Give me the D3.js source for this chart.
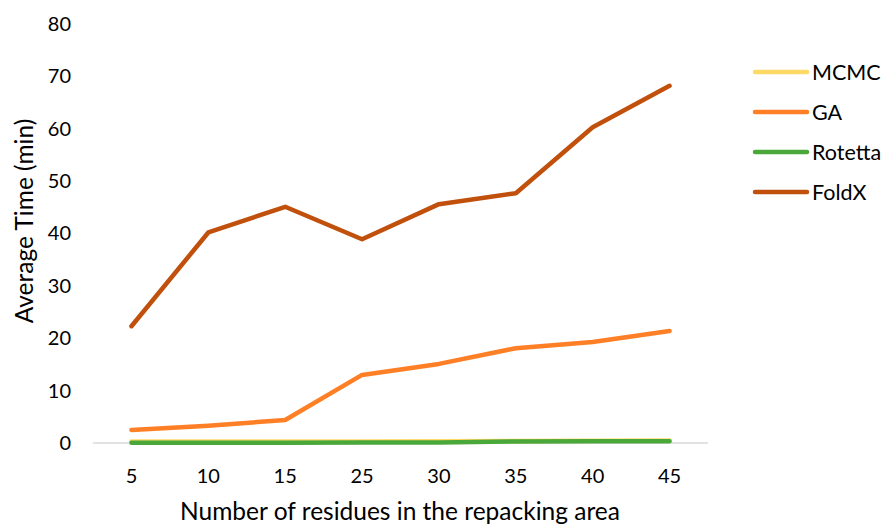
<!DOCTYPE html>
<html>
<head>
<meta charset="utf-8">
<script src="https://cdn.jsdelivr.net/npm/d3@7"></script>
<style>
  html, body { margin: 0; padding: 0; background: #fff; }
  svg text { font-family: Lato, "Open Sans", sans-serif; fill: #000; }
</style>
</head>
<body>
<svg id="chart" width="886" height="525"></svg>
<script>
// Residue counts in the repacking area (x categories)
const categories = ["5", "10", "15", "25", "30", "35", "40", "45"];

// Average time (min) per method
const mcmc    = [0.3, 0.3, 0.3, 0.3, 0.35, 0.4, 0.45, 0.5];
const ga      = [2.5, 3.3, 4.4, 13.0, 15.1, 18.1, 19.3, 21.4];
const rotetta = [0.05, 0.05, 0.05, 0.1, 0.1, 0.3, 0.35, 0.35];
const foldx   = [22.3, 40.2, 45.1, 38.9, 45.6, 47.7, 60.3, 68.2];

const yTicks = [0, 10, 20, 30, 40, 50, 60, 70, 80];

const seriesNames = ["MCMC", "GA", "Rotetta", "FoldX"];
const seriesValues = [mcmc, ga, rotetta, foldx];
const seriesColors = ["#FFD966", "#FF7F27", "#4AA83A", "#C0500C"];

const svg = d3.select("#chart");
const margin = { left: 93, right: 178, top: 24, bottom: 82 };
const W = 886, H = 525;

const x = d3.scaleBand()
  .domain(categories)
  .range([margin.left, W - margin.right])
  .padding(0);

const y = d3.scaleLinear()
  .domain([0, 80])
  .range([H - margin.bottom, margin.top]);

// Baseline at zero
svg.append("line")
  .attr("x1", x.range()[0]).attr("x2", x.range()[1])
  .attr("y1", y(0)).attr("y2", y(0))
  .attr("stroke", "#d9d9d9").attr("stroke-width", 1.5);

// Y axis labels (no axis line)
const yAxis = d3.axisLeft(y).tickValues(yTicks).tickSize(0).tickPadding(0);
const gy = svg.append("g").attr("transform", `translate(${margin.left - 22},0)`).call(yAxis);
gy.select(".domain").remove();
gy.selectAll("text").attr("font-size", 20).attr("font-family", "Lato, sans-serif").attr("fill", "#000");

// X axis labels
const xAxis = d3.axisBottom(x).tickSize(0).tickPadding(0);
const gx = svg.append("g").attr("transform", `translate(0,${y(0) + 26})`).call(xAxis);
gx.select(".domain").remove();
gx.selectAll("text").attr("font-size", 20).attr("font-family", "Lato, sans-serif").attr("fill", "#000");

// Axis titles
svg.append("text")
  .attr("x", 400)
  .attr("y", 520)
  .attr("text-anchor", "middle")
  .attr("font-size", 24.5)
  .text("Number of residues in the repacking area");

svg.append("text")
  .attr("transform", `translate(33, 221) rotate(-90)`)
  .attr("text-anchor", "middle")
  .attr("font-size", 24.5)
  .text("Average Time (min)");

// Series lines
const line = d3.line()
  .x((d, i) => x(categories[i]) + x.bandwidth() / 2)
  .y(d => y(d));

seriesValues.forEach((vals, k) => {
  svg.append("path")
    .datum(vals)
    .attr("d", line)
    .attr("fill", "none")
    .attr("stroke", seriesColors[k])
    .attr("stroke-width", 4.5)
    .attr("stroke-linecap", "round")
    .attr("stroke-linejoin", "round");
});

// Legend
const legend = svg.append("g");
seriesNames.forEach((name, k) => {
  const ly = 72 + k * 40;
  legend.append("line")
    .attr("x1", 755).attr("x2", 807)
    .attr("y1", ly).attr("y2", ly)
    .attr("stroke", seriesColors[k])
    .attr("stroke-width", 4.5)
    .attr("stroke-linecap", "round");
  legend.append("text")
    .attr("x", 812).attr("y", ly)
    .attr("dy", "0.35em")
    .attr("font-size", 21.5)
    .text(name);
});
</script>
</body>
</html>
